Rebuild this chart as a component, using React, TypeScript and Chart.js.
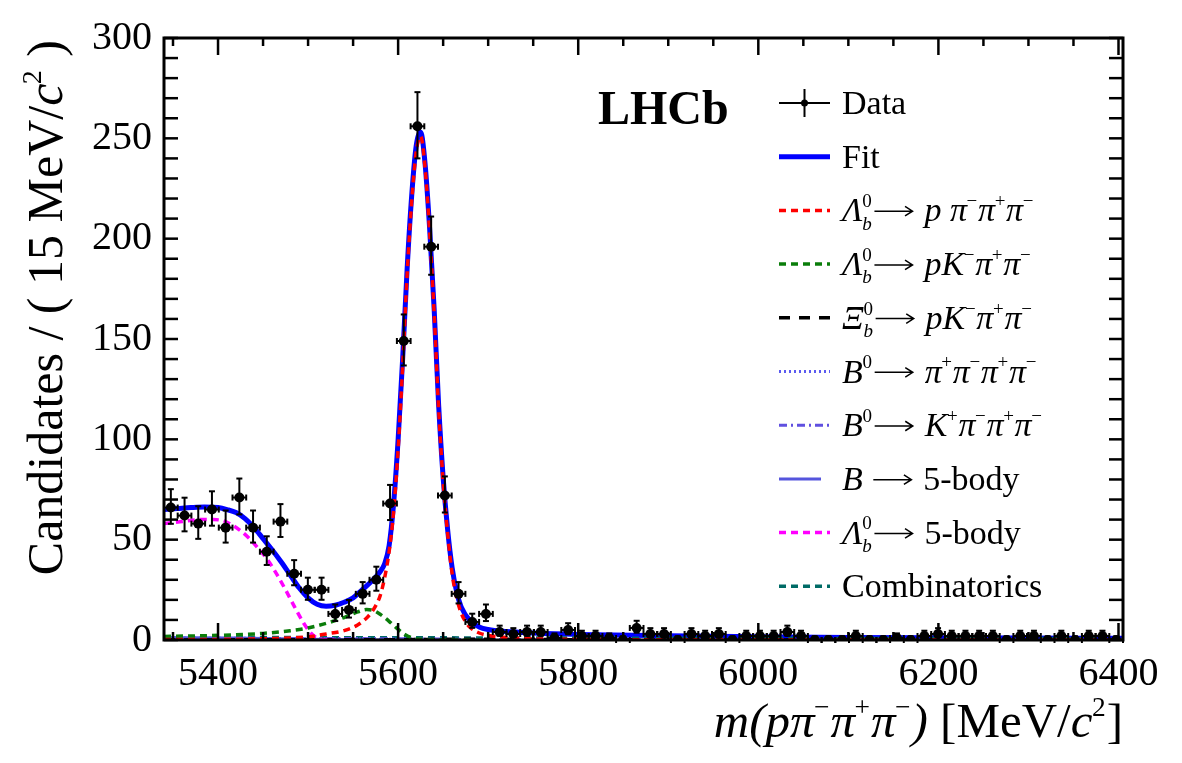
import React, { useEffect, useRef } from "react";
import { Chart, registerables } from "chart.js";

Chart.register(...registerables);

const SERIF = "'Liberation Serif', 'Times New Roman', Times, serif";

// Invariant-mass histogram binning
const MASS_MIN = 5340;
const MASS_MAX = 6405;
const N_BINS = 70;
const BIN_WIDTH = (MASS_MAX - MASS_MIN) / N_BINS;

// Candidates per bin
const CANDIDATES = [
  66, 62, 58, 65, 56, 71, 56, 44, 59, 33,
  25, 25, 13, 15, 23, 30, 68, 149, 256, 196,
  72, 23, 9, 13, 4, 3, 4, 4, 1, 5,
  2, 2, 1, 0, 6, 3, 3, 0, 3, 2,
  3, 0, 2, 2, 2, 4, 2, 0, 0, 0,
  2, 0, 0, 1, 0, 2, 3, 2, 2, 2,
  2, 0, 2, 2, 0, 2, 0, 2, 2, 0,
];

const X_TICKS = [5400, 5600, 5800, 6000, 6200, 6400];
const Y_TICKS = [0, 50, 100, 150, 200, 250, 300];
const X_MINOR_STEP = 50;
const Y_MINOR_STEP = 10;

// Total fit
const FIT_MASS = [5340, 5355, 5370, 5385, 5400, 5410, 5420, 5430, 5440, 5450, 5460, 5470, 5480, 5490, 5500, 5510, 5520, 5530, 5540, 5550, 5560, 5570, 5580, 5585, 5590, 5595, 5600, 5605, 5610, 5615, 5620, 5625, 5630, 5635, 5640, 5645, 5650, 5655, 5660, 5665, 5670, 5680, 5690, 5700, 5720, 5750, 5800, 5900, 6000, 6100, 6200, 6300, 6405];
const FIT_TOTAL = [65, 65.5, 66, 66.3, 66, 65, 63.5, 60.5, 56, 50.5, 45, 39, 32.5, 26, 21, 17.8, 16.8, 17.3, 18.8, 21, 25, 29, 34, 38, 47, 68, 100, 140, 185, 221, 246, 253, 237, 205, 165, 117, 81, 55, 36, 24, 16.5, 9.5, 6.5, 5.2, 4.2, 3.5, 2.8, 2.1, 1.6, 1.3, 1.1, 0.95, 0.85];

// Lambda_b -> p pi pi pi signal
const SIG_MASS = [5340, 5450, 5500, 5520, 5540, 5555, 5565, 5570, 5575, 5580, 5585, 5590, 5595, 5600, 5605, 5610, 5615, 5620, 5625, 5630, 5635, 5640, 5645, 5650, 5655, 5660, 5665, 5670, 5675, 5680, 5690, 5700, 5720, 5750, 5800, 6000, 6405];
const SIG_Y = [0.2, 0.6, 1.6, 3, 4.7, 7.5, 11, 13.5, 17, 22, 31, 44, 64, 95, 136, 182, 218, 243, 251, 235, 203, 163, 115, 79, 53, 33, 21, 13.5, 9, 6.3, 3.5, 2.3, 1.2, 0.6, 0.3, 0.1, 0.05];

// Lambda_b -> p K pi pi (misidentified)
const LB_PKPIPI_MASS = [5340, 5380, 5420, 5450, 5480, 5500, 5520, 5540, 5555, 5565, 5572, 5580, 5590, 5600, 5608, 5616, 5630, 5660, 5700];
const LB_PKPIPI_Y = [1.8, 2.1, 2.6, 3.3, 4.6, 6, 8.3, 11.2, 14, 15.2, 14.8, 12.8, 9.3, 5.3, 2.6, 1, 0.3, 0.05, 0];

// Xi_b -> p K pi pi
const XIB_MASS = [5340, 5600, 5680, 5720, 5800, 6000, 6405];
const XIB_Y = [0.05, 0.15, 0.4, 0.4, 0.15, 0.02, 0];

// B0 -> pi pi pi pi
const B4PI_MASS = [5340, 5450, 5550, 5650, 5800, 6405];
const B4PI_Y = [1.0, 0.8, 0.5, 0.3, 0.1, 0.02];

// B0 -> K pi pi pi
const BK3PI_MASS = [5340, 5500, 5600, 5700, 5900, 6405];
const BK3PI_Y = [0.6, 0.8, 0.6, 0.3, 0.1, 0.02];

// B -> 5-body
const B5_MASS = [5340, 5420, 5500, 5560, 5600];
const B5_Y = [1.2, 1.0, 0.4, 0.05, 0];

// Lambda_b -> 5-body (partially reconstructed)
const LB5_MASS = [5340, 5360, 5380, 5395, 5405, 5415, 5425, 5435, 5445, 5455, 5465, 5475, 5485, 5495, 5503, 5510, 5518, 5530];
const LB5_Y = [58, 59, 60, 60, 59.5, 57.5, 54.5, 50.5, 45.5, 40, 33, 25, 16.5, 8.5, 3.5, 1, 0.2, 0];

// Combinatorial background
const COMB_MASS = [5340, 5600, 6000, 6405];
const COMB_Y = [1.3, 1.1, 0.85, 0.65];

const C_RED = "#ff0000";
const C_GREEN = "#0a7d0a";
const C_BLACK = "#000000";
const C_B4PI = "#5a5af0";
const C_BK3PI = "#6050e0";
const C_B5 = "#5555dd";
const C_MAGENTA = "#ff00ff";
const C_COMB = "#006b66";
const C_FIT = "#0000ff";

type Seg = { t: string; it?: boolean; sup?: string; sub?: string; subIt?: boolean; arrow?: boolean };

function fontOf(size: number, italic = false, bold = false) {
  return `${italic ? "italic " : ""}${bold ? "bold " : ""}${size}px ${SERIF}`;
}

// Draws (or only measures) a run of text with superscripts, subscripts and long arrows
function rich(ctx: CanvasRenderingContext2D, segs: Seg[], x: number, y: number, size: number, draw = true): number {
  let cx = x;
  const small = size * 0.56;
  for (const s of segs) {
    if (s.arrow) {
      const a0 = cx + size * 0.06;
      const a1 = a0 + size * 1.12;
      const ay = y - size * 0.3;
      if (draw) {
        ctx.save();
        ctx.strokeStyle = ctx.fillStyle as string;
        ctx.setLineDash([]);
        ctx.lineWidth = Math.max(1.4, size * 0.045);
        ctx.beginPath();
        ctx.moveTo(a0, ay);
        ctx.lineTo(a1, ay);
        ctx.moveTo(a1 - size * 0.22, ay - size * 0.14);
        ctx.lineTo(a1, ay);
        ctx.lineTo(a1 - size * 0.22, ay + size * 0.14);
        ctx.stroke();
        ctx.restore();
      }
      cx = a1 + size * 0.1;
      continue;
    }
    ctx.font = fontOf(size, !!s.it);
    if (draw && s.t) ctx.fillText(s.t, cx, y);
    cx += ctx.measureText(s.t).width;
    if (s.sup || s.sub) {
      let w = 0;
      const off = s.it ? -size * 0.01 : size * 0.02;
      if (s.sup) {
        ctx.font = fontOf(small, false);
        if (draw) ctx.fillText(s.sup, cx + off, y - size * 0.42);
        w = Math.max(w, ctx.measureText(s.sup).width);
      }
      if (s.sub) {
        ctx.font = fontOf(small, !!s.subIt);
        if (draw) ctx.fillText(s.sub, cx + off, y + size * 0.24);
        w = Math.max(w, ctx.measureText(s.sub).width);
      }
      cx += w + off + size * 0.02;
    }
  }
  return cx - x;
}

const LAMBDA_B: Seg = { t: "Λ", it: true, sup: "0", sub: "b", subIt: true };
const XI_B: Seg = { t: "Ξ", it: true, sup: "0", sub: "b", subIt: true };
const ARROW: Seg = { t: "", arrow: true };

type LegendRow = {
  text: Seg[];
  kind: "data" | "line";
  color?: string;
  width?: number;
  dash?: number[];
  len?: number;
};

const LEGEND_ROWS: LegendRow[] = [
  { text: [{ t: "Data" }], kind: "data" },
  { text: [{ t: "Fit" }], kind: "line", color: C_FIT, width: 5, dash: [] },
  {
    text: [LAMBDA_B, ARROW, { t: " " }, { t: "p", it: true }, { t: " " }, { t: "π", it: true, sup: "−" }, { t: "π", it: true, sup: "+" }, { t: "π", it: true, sup: "−" }],
    kind: "line", color: C_RED, width: 3.5, dash: [7, 5],
  },
  {
    text: [LAMBDA_B, ARROW, { t: " " }, { t: "pK", it: true, sup: "−" }, { t: "π", it: true, sup: "+" }, { t: "π", it: true, sup: "−" }],
    kind: "line", color: C_GREEN, width: 3.5, dash: [7, 5],
  },
  {
    text: [XI_B, ARROW, { t: " " }, { t: "pK", it: true, sup: "−" }, { t: "π", it: true, sup: "+" }, { t: "π", it: true, sup: "−" }],
    kind: "line", color: C_BLACK, width: 3.5, dash: [11, 9],
  },
  {
    text: [{ t: "B", it: true, sup: "0" }, ARROW, { t: " " }, { t: "π", it: true, sup: "+" }, { t: "π", it: true, sup: "−" }, { t: "π", it: true, sup: "+" }, { t: "π", it: true, sup: "−" }],
    kind: "line", color: C_B4PI, width: 3, dash: [2, 3],
  },
  {
    text: [{ t: "B", it: true, sup: "0" }, ARROW, { t: " " }, { t: "K", it: true, sup: "+" }, { t: "π", it: true, sup: "−" }, { t: "π", it: true, sup: "+" }, { t: "π", it: true, sup: "−" }],
    kind: "line", color: C_BK3PI, width: 3, dash: [8, 4, 2, 4],
  },
  {
    text: [{ t: "B", it: true }, { t: " " }, ARROW, { t: " 5-body" }],
    kind: "line", color: C_B5, width: 3, dash: [], len: 42,
  },
  {
    text: [LAMBDA_B, ARROW, { t: " 5-body" }],
    kind: "line", color: C_MAGENTA, width: 3.5, dash: [7, 5],
  },
  { text: [{ t: "Combinatorics" }], kind: "line", color: C_COMB, width: 3.5, dash: [7, 5] },
];

const Y_TITLE: Seg[] = [{ t: "Candidates / ( 15 MeV/" }, { t: "c", it: true, sup: "2" }, { t: " )" }];
const X_TITLE: Seg[] = [
  { t: "m(p", it: true },
  { t: "π", it: true, sup: "−" },
  { t: "π", it: true, sup: "+" },
  { t: "π", it: true, sup: "−" },
  { t: ")", it: true },
  { t: " [MeV/" },
  { t: "c", it: true, sup: "2" },
  { t: "]" },
];

// Poisson (68.3%) interval half-widths, Wilson-Hilferty approximation
function poissonLow(n: number) {
  if (n <= 0) return 0;
  const f = 1 - 1 / (9 * n) - 1 / (3 * Math.sqrt(n));
  return n - n * f * f * f;
}
function poissonHigh(n: number) {
  const m = n + 1;
  const f = 1 - 1 / (9 * m) + 1 / (3 * Math.sqrt(m));
  return m * f * f * f - n;
}

function seg(ctx: CanvasRenderingContext2D, x1: number, y1: number, x2: number, y2: number) {
  ctx.beginPath();
  ctx.moveTo(x1, y1);
  ctx.lineTo(x2, y2);
  ctx.stroke();
}

const decorPlugin = {
  id: "hepDecor",
  beforeDatasetDraw(chart: any, args: any) {
    if (args.index !== 0) return;
    const { ctx } = chart;
    const xs = chart.scales.x;
    const ys = chart.scales.y;
    ctx.save();
    ctx.strokeStyle = "#000";
    ctx.lineWidth = 2;
    const cap = 3;
    CANDIDATES.forEach((n, k) => {
      const c = MASS_MIN + BIN_WIDTH * (k + 0.5);
      const px = xs.getPixelForValue(c);
      const py = ys.getPixelForValue(n);
      const yHi = ys.getPixelForValue(n + poissonHigh(n));
      const yLo = ys.getPixelForValue(n - poissonLow(n));
      const xL = xs.getPixelForValue(c - BIN_WIDTH / 2);
      const xR = xs.getPixelForValue(c + BIN_WIDTH / 2);
      seg(ctx, px, yHi, px, yLo);
      seg(ctx, px - cap, yHi, px + cap, yHi);
      if (n > 0) seg(ctx, px - cap, yLo, px + cap, yLo);
      seg(ctx, xL, py, xR, py);
      seg(ctx, xL, py - cap, xL, py + cap);
      seg(ctx, xR, py - cap, xR, py + cap);
    });
    ctx.restore();
  },
  afterDraw(chart: any) {
    const { ctx, chartArea } = chart;
    const { left, right, top, bottom } = chartArea;
    const xs = chart.scales.x;
    const ys = chart.scales.y;
    ctx.save();
    ctx.strokeStyle = "#000";
    ctx.fillStyle = "#000";
    ctx.setLineDash([]);

    // frame
    ctx.lineWidth = 3;
    ctx.strokeRect(left, top, right - left, bottom - top);

    // ticks on all four sides, pointing inwards
    ctx.lineWidth = 2.5;
    for (let v = Math.ceil(MASS_MIN / X_MINOR_STEP) * X_MINOR_STEP; v <= MASS_MAX; v += X_MINOR_STEP) {
      const major = X_TICKS.includes(v);
      const len = major ? 17 : 8;
      const px = xs.getPixelForValue(v);
      seg(ctx, px, bottom, px, bottom - len);
      seg(ctx, px, top, px, top + len);
    }
    for (let v = 0; v <= 300; v += Y_MINOR_STEP) {
      const len = 14;
      const py = ys.getPixelForValue(v);
      seg(ctx, left, py, left + len, py);
      seg(ctx, right, py, right - len, py);
    }

    // experiment label
    ctx.textAlign = "left";
    ctx.textBaseline = "alphabetic";
    ctx.font = fontOf(48, false, true);
    ctx.fillText("LHCb", 598, 124);

    // legend
    const legSize = 34;
    LEGEND_ROWS.forEach((row, i) => {
      const ly = 103 + 53.7 * i;
      const x0 = 779;
      const x1 = x0 + (row.len ?? 51);
      if (row.kind === "data") {
        ctx.lineWidth = 2;
        ctx.setLineDash([]);
        seg(ctx, x0, ly, x1, ly);
        seg(ctx, (x0 + x1) / 2, ly - 14, (x0 + x1) / 2, ly + 14);
        ctx.beginPath();
        ctx.arc((x0 + x1) / 2, ly, 3.5, 0, Math.PI * 2);
        ctx.fill();
      } else {
        ctx.save();
        ctx.strokeStyle = row.color!;
        ctx.lineWidth = row.width!;
        ctx.setLineDash(row.dash!);
        seg(ctx, x0, ly, x1, ly);
        ctx.restore();
      }
      ctx.fillStyle = "#000";
      rich(ctx, row.text, 842, ly + 11, legSize);
    });

    // axis titles
    const xSize = 49;
    const xw = rich(ctx, X_TITLE, 0, 0, xSize, false);
    rich(ctx, X_TITLE, right - xw, 737, xSize);

    const ySize = 50;
    const yw = rich(ctx, Y_TITLE, 0, 0, ySize, false);
    ctx.save();
    ctx.translate(62, top + 2 + yw);
    ctx.rotate(-Math.PI / 2);
    rich(ctx, Y_TITLE, 0, 0, ySize);
    ctx.restore();

    ctx.restore();
  },
};

function curve(xs: number[], ys: number[]) {
  return xs.map((x, i) => ({ x, y: ys[i] }));
}

function component(label: string, xs: number[], ys: number[], color: string, dash: number[], order: number, width = 3.5) {
  return {
    label,
    data: curve(xs, ys),
    borderColor: color,
    borderWidth: width,
    borderDash: dash,
    pointRadius: 0,
    fill: false,
    cubicInterpolationMode: "monotone" as const,
    order,
  };
}

export default function App() {
  const canvasRef = useRef<HTMLCanvasElement>(null);

  useEffect(() => {
    const canvas = canvasRef.current;
    if (!canvas) return;
    const points = CANDIDATES.map((n, k) => ({ x: MASS_MIN + BIN_WIDTH * (k + 0.5), y: n }));

    const chart = new Chart(canvas, {
      type: "line",
      data: {
        datasets: [
          {
            label: "Data",
            data: points,
            showLine: false,
            pointRadius: 5,
            pointHoverRadius: 5,
            pointBackgroundColor: "#000",
            pointBorderWidth: 0,
            order: 0,
          } as any,
          component("Combinatorics", COMB_MASS, COMB_Y, C_COMB, [7, 5], 9),
          component("B0 -> pi pi pi pi", B4PI_MASS, B4PI_Y, C_B4PI, [2, 3], 8, 3),
          component("B0 -> K pi pi pi", BK3PI_MASS, BK3PI_Y, C_BK3PI, [8, 4, 2, 4], 7, 3),
          component("B -> 5-body", B5_MASS, B5_Y, C_B5, [], 6, 3),
          component("Xib -> p K pi pi", XIB_MASS, XIB_Y, C_BLACK, [11, 9], 5),
          component("Lb -> 5-body", LB5_MASS, LB5_Y, C_MAGENTA, [7, 5], 4),
          component("Lb -> p K pi pi", LB_PKPIPI_MASS, LB_PKPIPI_Y, C_GREEN, [7, 5], 3),
          component("Lb -> p pi pi pi", SIG_MASS, SIG_Y, C_RED, [7, 5], 2),
          component("Fit", FIT_MASS, FIT_TOTAL, C_FIT, [], 10, 5),
        ],
      },
      options: {
        animation: false,
        responsive: false,
        events: [],
        layout: { padding: { top: 38, right: 59, left: 0, bottom: 0 } },
        plugins: { legend: { display: false }, tooltip: { enabled: false } },
        scales: {
          x: {
            type: "linear",
            min: MASS_MIN,
            max: MASS_MAX,
            grid: { display: false, drawTicks: false },
            border: { display: false },
            afterBuildTicks: (s: any) => {
              s.ticks = X_TICKS.map((v) => ({ value: v }));
            },
            afterFit: (s: any) => {
              s.height = 123;
            },
            ticks: {
              font: { family: SERIF, size: 40 },
              color: "#000",
              padding: 10,
              maxRotation: 0,
              autoSkip: false,
              callback: (v: any) => String(v),
            },
          },
          y: {
            type: "linear",
            min: 0,
            max: 300,
            grid: { display: false, drawTicks: false },
            border: { display: false },
            afterBuildTicks: (s: any) => {
              s.ticks = Y_TICKS.map((v) => ({ value: v }));
            },
            afterFit: (s: any) => {
              s.width = 164;
            },
            ticks: {
              font: { family: SERIF, size: 40 },
              color: "#000",
              padding: 12,
              autoSkip: false,
              callback: (v: any) => String(v),
            },
          },
        },
      },
      plugins: [decorPlugin],
    });
    return () => chart.destroy();
  }, []);

  return (
    <div style={{ position: "fixed", left: 0, top: 0, width: 1182, height: 763, background: "#fff" }}>
      <canvas ref={canvasRef} width={1182} height={763} style={{ display: "block" }} />
    </div>
  );
}
